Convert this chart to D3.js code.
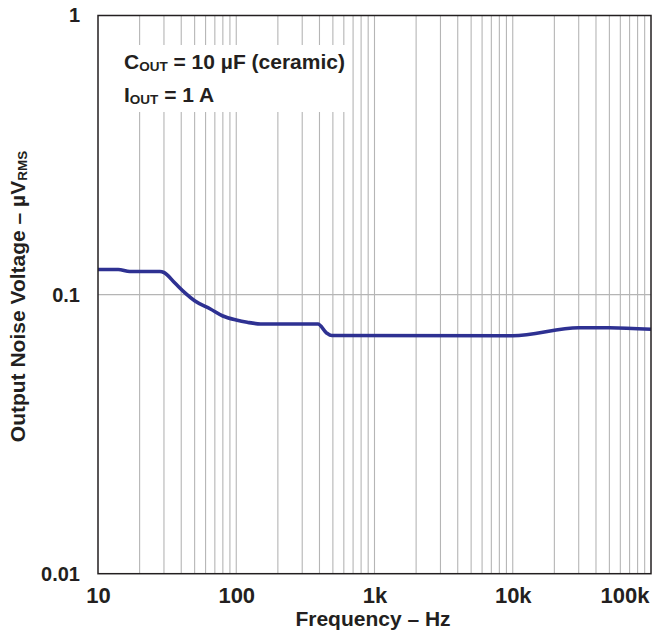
<!DOCTYPE html>
<html><head><meta charset="utf-8">
<script src="https://cdn.jsdelivr.net/npm/d3@7"></script>
<style>
body{margin:0;background:#fff}
text{font-family:"Liberation Sans",Arial,Helvetica,sans-serif;font-weight:bold;fill:#231f20}
</style>
</head><body>
<svg id="c" width="654" height="639"></svg>
<script>
// Data
const freqHz   = [10, 14, 17, 28, 30, 36, 43, 50, 65, 80, 100, 120, 150, 390, 450, 490, 10000, 30000, 50000, 100000];
const noiseUV  = [0.123, 0.123, 0.121, 0.121, 0.120, 0.110, 0.101, 0.095, 0.0888, 0.0838, 0.0811, 0.0796, 0.0785, 0.0785, 0.0729, 0.0714, 0.0712, 0.0761, 0.0761, 0.0751];
const xTickValues = [10, 100, 1000, 10000, 100000];
const xTickLabels = ["10", "100", "1k", "10k", "100k"];
const yTickValues = [0.01, 0.1, 1];
const yTickLabels = ["0.01", "0.1", "1"];

const W = 654, H = 639;
const margin = {left: 98, right: 3, top: 15.5, bottom: 65.3};
const svg = d3.select("#c");

const x = d3.scaleLog().domain([10, 100000]).range([margin.left, W - margin.right]);
const y = d3.scaleLog().domain([0.01, 1]).range([H - margin.bottom, margin.top]);

// minor vertical grid lines
const vGrid = [];
[10, 100, 1000, 10000].forEach(d => { for (let k = 1; k <= 9; k++) vGrid.push(d * k); });
vGrid.push(100000);

svg.append("g").selectAll("line").data(vGrid.filter(v => v > 10 && v < 100000)).join("line")
  .attr("x1", d => x(d)).attr("x2", d => x(d))
  .attr("y1", y(1)).attr("y2", y(0.01))
  .attr("stroke", "#b5b5b5").attr("stroke-width", 1.1);

svg.append("g").selectAll("line").data([0.1]).join("line")
  .attr("x1", x(10)).attr("x2", x(100000))
  .attr("y1", d => y(d)).attr("y2", d => y(d))
  .attr("stroke", "#b5b5b5").attr("stroke-width", 1.1);

// annotation background
svg.append("rect").attr("x", 108).attr("y", 45).attr("width", 244).attr("height", 67).attr("fill", "#fff");

// curve
const line = d3.line().x((d, i) => x(freqHz[i])).y((d, i) => y(noiseUV[i])).curve(d3.curveMonotoneX);
svg.append("path").datum(noiseUV).attr("d", line)
  .attr("fill", "none").attr("stroke", "#2e3192").attr("stroke-width", 3.6)
  .attr("stroke-linejoin", "round");

// frame
svg.append("rect").attr("x", x(10)).attr("y", y(1))
  .attr("width", x(100000) - x(10)).attr("height", y(0.01) - y(1))
  .attr("fill", "none").attr("stroke", "#231f20").attr("stroke-width", 1.5);

// axes
const xAxis = d3.axisBottom(x).tickValues(xTickValues).tickFormat((d, i) => xTickLabels[i]).tickSize(0).tickPadding(14);
const gx = svg.append("g").attr("transform", `translate(0,${H - margin.bottom})`).call(xAxis);
gx.select(".domain").remove();
gx.selectAll("text").attr("font-size", 22).style("font-family", '"Liberation Sans",Arial,sans-serif').style("font-weight", "bold").attr("fill", "#231f20");
gx.selectAll(".tick").filter(d => d === 100000).select("text").attr("text-anchor", "end").attr("x", -2);

const yAxis = d3.axisLeft(y).tickValues(yTickValues).tickFormat((d, i) => yTickLabels[i]).tickSize(0).tickPadding(18);
const gy = svg.append("g").attr("transform", `translate(${margin.left},0)`).call(yAxis);
gy.select(".domain").remove();
gy.selectAll("text").attr("font-size", 20).style("font-family", '"Liberation Sans",Arial,sans-serif').style("font-weight", "bold").attr("fill", "#231f20");

// annotations
const a1 = svg.append("text").attr("x", 124).attr("y", 69).attr("font-size", 21);
a1.append("tspan").text("C");
a1.append("tspan").attr("font-size", 13.5).attr("dy", 2).text("OUT");
a1.append("tspan").attr("dy", -2).text(" = 10 µF (ceramic)");
const a2 = svg.append("text").attr("x", 124).attr("y", 101.5).attr("font-size", 21);
a2.append("tspan").text("I");
a2.append("tspan").attr("font-size", 13.5).attr("dy", 2).text("OUT");
a2.append("tspan").attr("dy", -2).text(" = 1 A");

// axis titles
svg.append("text").attr("x", 373).attr("y", 626).attr("text-anchor", "middle").attr("font-size", 21)
  .text("Frequency – Hz");
const yt = svg.append("text").attr("transform", "translate(25,296.5) rotate(-90)").attr("text-anchor", "middle").attr("font-size", 21);
yt.append("tspan").text("Output Noise Voltage – µV");
yt.append("tspan").attr("font-size", 13.5).attr("dy", 2).text("RMS");
</script>
</body></html>
